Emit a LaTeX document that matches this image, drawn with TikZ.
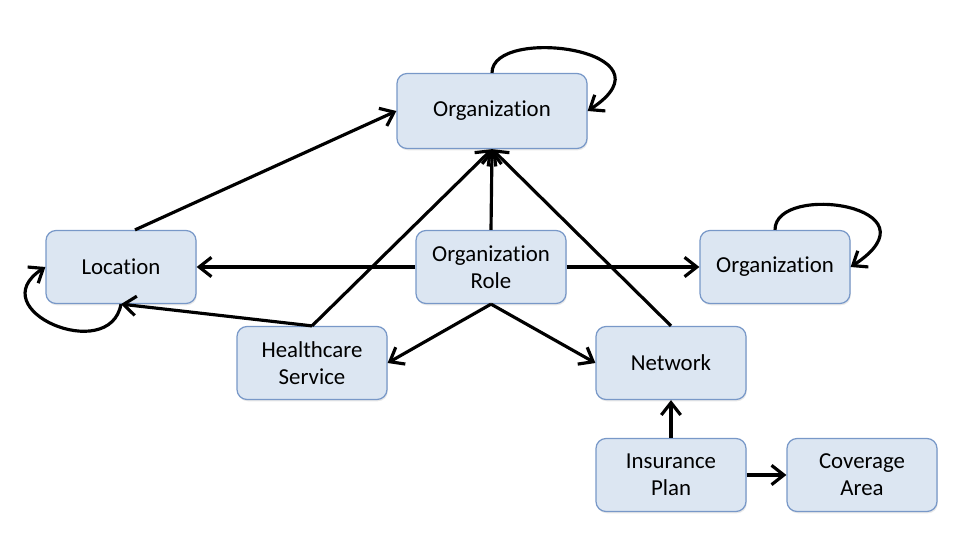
\documentclass[tikz,border=0pt]{standalone}
\usepackage{fontspec}
\setmainfont[Ligatures=NoCommon]{Carlito}
\usepackage{xcolor}
\usetikzlibrary{arrows.meta, shadows}
\definecolor{entityFill}{RGB}{220,230,242}
\definecolor{entityLine}{RGB}{120,152,200}
\tikzset{
    entity/.style={rectangle, draw=entityLine, line width=0.7pt, fill=entityFill, rounded corners=0.2cm,
        align=center, minimum width=3cm, minimum height=1.46cm, font=\fontsize{13}{15.5}\selectfont,
        drop shadow={opacity=0.18, shadow xshift=0.5pt, shadow yshift=-1pt}},
    link/.style={-{Straight Barb[length=7pt, width=11pt]}, line width=1.8pt, black}
}

\begin{document}
\begin{tikzpicture}
    \useasboundingbox (0,0) rectangle (19.2,10.76);

    % Entities
    \node[entity, minimum width=3.8cm, minimum height=1.5cm] (orgTop) at (9.84,8.54) {Organization};
    \node[entity] (location) at (2.42,5.42) {Location};
    \node[entity] (role) at (9.82,5.42) {Organization\\Role};
    \node[entity] (orgRight) at (15.5,5.42) {Organization};
    \node[entity] (service) at (6.24,3.5) {Healthcare\\Service};
    \node[entity] (network) at (13.42,3.5) {Network};
    \node[entity] (plan) at (13.42,1.26) {Insurance\\Plan};
    \node[entity] (coverage) at (17.24,1.26) {Coverage\\Area};

    % Links to the top Organization
    \draw[link] ([xshift=0.28cm]location.north) -- (orgTop.west);
    \draw[link] (role.north) -- (orgTop.south);
    \draw[link] (service.north) -- (orgTop.south);
    \draw[link] (network.north) -- (orgTop.south);

    % Links from the Organization Role
    \draw[link] (role.west) -- (location.east);
    \draw[link] (role.east) -- (orgRight.west);
    \draw[link] (role.south) -- (service.east);
    \draw[link] (role.south) -- (network.west);

    % Other links
    \draw[link] (service.north) -- (location.south);
    \draw[link] (plan.north) -- (network.south);
    \draw[link] (plan.east) -- (coverage.west);

    % Self loops
    \draw[link] (orgTop.north) .. controls +(0,0.96) and +(1.86,1.22) .. (orgTop.east);
    \draw[link] (orgRight.north) .. controls +(0,0.96) and +(1.86,1.22) .. (orgRight.east);
    \draw[link] (location.south) .. controls +(-0.22,-1.22) and +(-1.32,-0.86) .. (location.west);

\end{tikzpicture}
\end{document}
